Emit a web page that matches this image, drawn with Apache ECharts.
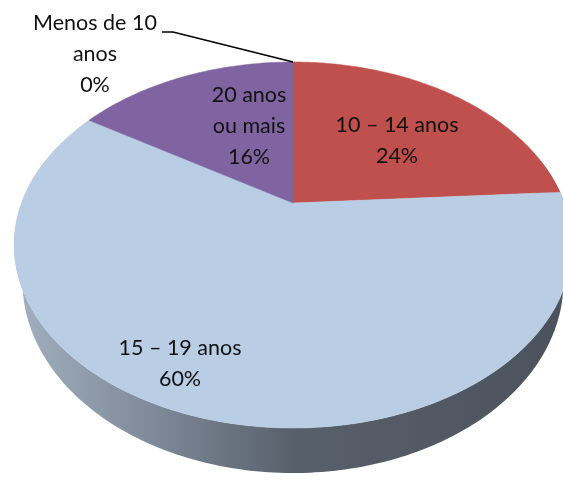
<!DOCTYPE html>
<html>
<head>
<meta charset="utf-8">
<script src="https://cdn.jsdelivr.net/npm/echarts@6/dist/echarts.min.js"></script>
<style>
  html, body { margin: 0; padding: 0; background: #fff; }
  #chart { width: 563px; height: 482px; }
</style>
</head>
<body>
<div id="chart"></div>
<script>
// dados do gráfico
const categorias = ['Menos de 10\nanos', '10 – 14 anos', '15 – 19 anos', '20 anos\nou mais'];
const percentuais = [0, 24, 60, 16];

// estilos
const coresTopo = ['#4F81BD', '#C0504D', '#B9CDE5', '#8064A2'];
const coresLado = [
  ['#5b7fae', '#2f4a6e'],
  ['#a84744', '#6e2c2a'],
  ['#a2b0c0', '#4b525c'],
  ['#6f568f', '#45355a']
];
// posição dos rótulos (centro do bloco de texto)
const rotulos = [[95, 54], [397, 141], [180, 364], [249, 126]];
const pontaGuia = [[173, 32], [162, 32]];

// projeção em perspectiva do disco
const CX = 293, APEX_Y = 203, K = 271.4, A = -126.77, C = 0.2295;
const DEPTH = 34.7, FUGA = 0.97; // espessura e convergência das verticais
function projetar(theta, r, queda) {
  const u = r * Math.sin(theta), v = r * Math.cos(theta);
  const d = 1 + C * v;
  const esc = queda ? FUGA : 1;
  return [CX + K * u / d * esc, (A * v + APEX_Y + (queda || 0)) / d];
}

const total = percentuais.reduce((s, v) => s + v, 0);
const inicio = [];
let acc = 0;
percentuais.forEach(v => { inicio.push(acc / total * Math.PI * 2); acc += v; });

function arco(a0, a1, queda) {
  const n = Math.max(2, Math.ceil((a1 - a0) / (Math.PI / 180)));
  const pts = [];
  for (let k = 0; k <= n; k++) pts.push(projetar(a0 + (a1 - a0) * k / n, 1, queda));
  return pts;
}

const chart = echarts.init(document.getElementById('chart'));

const option = {
  animation: false,
  series: [
    {
      // parede lateral
      type: 'custom',
      coordinateSystem: 'none',
      silent: true,
      data: percentuais.map(v => [v]),
      renderItem(params, api) {
        const i = params.dataIndex;
        const a0 = inicio[i];
        const a1 = a0 + api.value(0) / total * Math.PI * 2;
        const lo = Math.max(a0, 75 * Math.PI / 180);
        const hi = Math.min(a1, 285 * Math.PI / 180);
        if (hi <= lo) return { type: 'group', children: [] };
        const topo = arco(lo, hi, 0);
        const base = arco(lo, hi, DEPTH).reverse();
        const cores = coresLado[i];
        return {
          type: 'polygon',
          shape: { points: topo.concat(base) },
          style: {
            fill: new echarts.graphic.LinearGradient(0, 0, 1, 0, [
              { offset: 0, color: cores[0] },
              { offset: 0.25, color: i === 2 ? '#7e8a99' : cores[0] },
              { offset: 0.5, color: i === 2 ? '#58606b' : cores[1] },
              { offset: 1, color: cores[1] }
            ])
          }
        };
      }
    },
    {
      // face superior + rótulos
      type: 'custom',
      coordinateSystem: 'none',
      silent: true,
      data: percentuais.map(v => [v]),
      renderItem(params, api) {
        const i = params.dataIndex;
        const v = api.value(0);
        const a0 = inicio[i];
        const a1 = a0 + v / total * Math.PI * 2;
        const children = [];
        if (a1 - a0 > 1e-6) {
          children.push({
            type: 'polygon',
            shape: { points: [projetar(0, 0)].concat(arco(a0, a1, 0)) },
            style: { fill: coresTopo[i], stroke: coresTopo[i], lineWidth: 0.5 }
          });
        } else {
          children.push({
            type: 'polyline',
            z2: 20,
            shape: { points: [projetar(a0, 1)].concat(pontaGuia) },
            style: { stroke: '#000', lineWidth: 1.5, fill: null }
          });
        }
        children.push({
          type: 'text',
          z2: 30,
          x: rotulos[i][0],
          y: rotulos[i][1],
          style: {
            text: categorias[i] + '\n' + Math.round(v / total * 100) + '%',
            align: 'center',
            verticalAlign: 'middle',
            fontFamily: 'Lato',
            fontSize: 21.5,
            lineHeight: 31,
            fill: '#111'
          }
        });
        return { type: 'group', children };
      }
    }
  ]
};

chart.setOption(option);
</script>
</body>
</html>
